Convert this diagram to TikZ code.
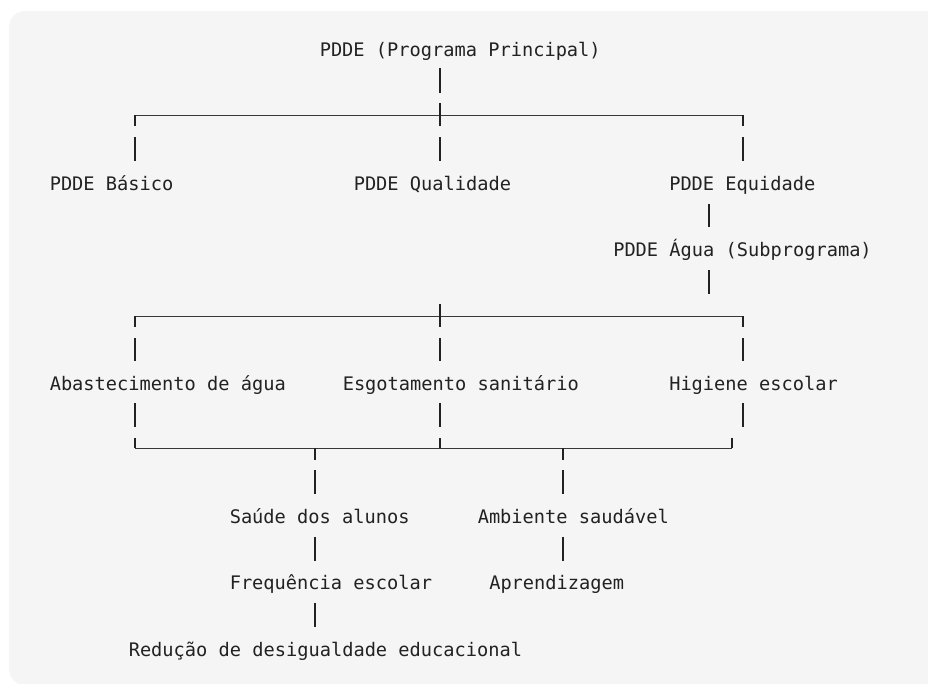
\documentclass[tikz,border=0pt]{standalone}
\usepackage{fontspec}
\setmonofont{DejaVu Sans Mono}
\definecolor{ink}{HTML}{222222}
\definecolor{bgcol}{HTML}{F5F5F5}
\newcommand\myvbar[3]{\draw[bar] (#1,#2) -- (#1,#3);}
\begin{document}
\begin{tikzpicture}[x=0.75pt,y=-0.75pt,
  txt/.style={anchor=base west, inner sep=0pt, text=ink,
              font=\ttfamily\fontsize{14}{16}\selectfont},
  bar/.style={draw=ink, line width=0.95pt},
  bus/.style={draw=ink!90, line width=0.75pt}]
\useasboundingbox (0,0) rectangle (928,683);
\clip (0,0) rectangle (928,683);
\fill[bgcol, rounded corners=12pt] (9,11) rectangle (960,685);

% texts
\node[txt] (main)   at (319.5,56)   {PDDE (Programa Principal)};
\node[txt] (basico) at (49.5,190)   {PDDE Básico};
\node[txt] (qual)   at (353.5,190)  {PDDE Qualidade};
\node[txt] (equi)   at (669,190)    {PDDE Equidade};
\node[txt] (agua)   at (613,256)    {PDDE Água (Subprograma)};
\node[txt] (abast)  at (49.5,390.5) {Abastecimento de água};
\node[txt] (esgot)  at (342.5,390.5){Esgotamento sanitário};
\node[txt] (hig)    at (669,390.5)  {Higiene escolar};
\node[txt] (saude)  at (229.5,523.5){Saúde dos alunos};
\node[txt] (amb)    at (477.5,523.5){Ambiente saudável};
\node[txt] (freq)   at (229.5,589.5){Frequência escolar};
\node[txt] (aprend) at (489,589.5)  {Aprendizagem};
\node[txt] (red)    at (128.5,656.5){Redução de desigualdade educacional};

% bus coordinates
\coordinate (b1w) at (135,115);
\coordinate (b1e) at (743,115);
\coordinate (b2w) at (135,316);
\coordinate (b2e) at (743,316);
\coordinate (b3w) at (135,448);
\coordinate (b3e) at (732,448);

% main -> bus 1
\myvbar{440}{68}{93}
\draw[bus] (b1w) -- (b1e);
\myvbar{135}{115}{126}
\myvbar{440}{103}{126}
\myvbar{743}{115}{126}
\myvbar{135}{137}{161}
\myvbar{440}{137}{161}
\myvbar{743}{137}{161}

% equidade -> agua -> bus 2
\myvbar{709}{204}{227}
\myvbar{709}{270}{294}
\draw[bus] (b2w) -- (b2e);
\myvbar{135}{316}{327}
\myvbar{440}{304}{327}
\myvbar{743}{316}{327}
\myvbar{135}{338}{361}
\myvbar{440}{338}{361}
\myvbar{743}{338}{361}

% row 3 -> bottom bus
\myvbar{135}{403}{427}
\myvbar{440}{403}{427}
\myvbar{743}{403}{427}
\draw[bus] (b3w) -- (b3e);
\myvbar{135}{438}{448}
\myvbar{440}{438}{448}
\myvbar{732}{438}{448}
\myvbar{315}{448}{460}
\myvbar{563}{448}{460}

% lower branches
\myvbar{315}{470}{494}
\myvbar{563}{470}{494}
\myvbar{315}{537}{561}
\myvbar{563}{537}{561}
\myvbar{315}{603}{627}
\end{tikzpicture}
\end{document}
